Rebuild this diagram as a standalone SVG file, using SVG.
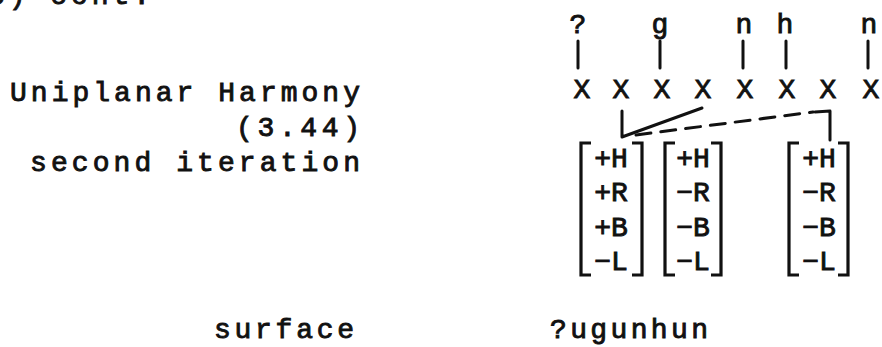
<svg xmlns="http://www.w3.org/2000/svg" width="882" height="347" viewBox="0 0 882 347">
<style>
text{font-family:"Liberation Mono","Courier New",monospace;fill:#111;stroke:#111;stroke-width:0.9;font-size:28px}
.c{text-anchor:middle}
.ln{stroke:#111;stroke-width:3;fill:none;stroke-linecap:round;stroke-linejoin:round}
.br{stroke:#111;stroke-width:3.2;fill:none;stroke-linejoin:miter}
</style>
<rect width="882" height="347" fill="#fff"/>
<g id="header"><text x="-12" y="4" textLength="162" lengthAdjust="spacing">3) cont.</text></g>
<g id="label-left">
<text x="10" y="101" textLength="350" lengthAdjust="spacing">Uniplanar Harmony</text>
<text x="236" y="136" textLength="124" lengthAdjust="spacing">(3.44)</text>
<text x="30" y="171" textLength="330" lengthAdjust="spacing">second iteration</text>
</g>
<g id="melody">
<text class="c" x="578" y="33">?</text>
<text class="c" x="660" y="33">g</text>
<text class="c" x="744" y="33">n</text>
<text class="c" x="785" y="33">h</text>
<text class="c" x="869" y="33">n</text>
</g>
<g id="skeleton">
<text class="c" x="582" y="98">X</text>
<text class="c" x="621" y="98">X</text>
<text class="c" x="662" y="98">X</text>
<text class="c" x="703" y="98">X</text>
<text class="c" x="745" y="98">X</text>
<text class="c" x="787" y="98">X</text>
<text class="c" x="828" y="98">X</text>
<text class="c" x="871" y="98">X</text>
</g>
<g id="connectors">
<line class="ln" x1="578" y1="41" x2="578" y2="68"/>
<line class="ln" x1="660" y1="41" x2="660" y2="68"/>
<line class="ln" x1="743" y1="41" x2="743" y2="68"/>
<line class="ln" x1="786" y1="41" x2="786" y2="68"/>
<line class="ln" x1="868" y1="41" x2="868" y2="68"/>
<polyline class="ln" points="622,111 622,137 702,108"/>
<line class="ln" x1="636" y1="135" x2="813" y2="112" stroke-dasharray="15 10"/>
<polyline class="ln" points="815,112 830,111 830,140"/>
</g>
<g id="matrix1">
<path class="br" d="M591,143 H581 V275 H591 M632,143 H642 V275 H632"/>
<text class="c" x="611" y="167">+H</text>
<text class="c" x="611" y="201">+R</text>
<text class="c" x="611" y="236">+B</text>
<text class="c" x="611" y="270">−L</text>
</g>
<g id="matrix2">
<path class="br" d="M675,143 H665 V275 H675 M711,143 H721 V275 H711"/>
<text class="c" x="693" y="167">+H</text>
<text class="c" x="693" y="201">−R</text>
<text class="c" x="693" y="236">−B</text>
<text class="c" x="693" y="270">−L</text>
</g>
<g id="matrix3">
<path class="br" d="M799,143 H789 V275 H799 M838,143 H848 V275 H838"/>
<text class="c" x="819" y="167">+H</text>
<text class="c" x="819" y="201">−R</text>
<text class="c" x="819" y="236">−B</text>
<text class="c" x="819" y="270">−L</text>
</g>
<g id="surface">
<text x="214" y="338" textLength="140" lengthAdjust="spacing">surface</text>
<text x="550" y="338" textLength="158" lengthAdjust="spacing">?ugunhun</text>
</g>
</svg>
